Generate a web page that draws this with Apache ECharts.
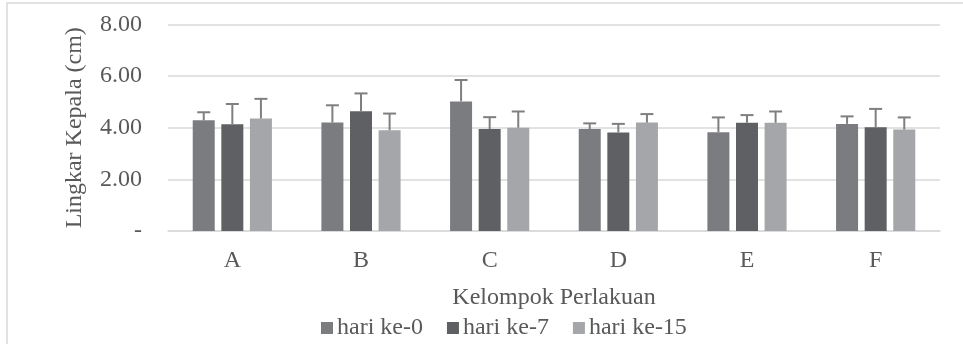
<!DOCTYPE html>
<html>
<head>
<meta charset="utf-8">
<script src="https://cdn.jsdelivr.net/npm/echarts@6/dist/echarts.min.js"></script>
<style>
  html, body { margin: 0; padding: 0; background: #fff; }
  #chart { width: 963px; height: 344px; }
</style>
</head>
<body>
<div id="chart"></div>
<script>
// Treatment groups
const categories = ['A', 'B', 'C', 'D', 'E', 'F'];
const seriesNames = ['hari ke-0', 'hari ke-7', 'hari ke-15'];

// Mean head circumference (cm) per group
const day0 = [4.29, 4.20, 5.02, 3.95, 3.83, 4.15];
const day7 = [4.14, 4.64, 3.95, 3.82, 4.19, 4.02];
const day15 = [4.36, 3.90, 4.00, 4.20, 4.19, 3.93];

// Standard deviation (upper error bars)
const sd0 = [0.31, 0.67, 0.83, 0.22, 0.57, 0.29];
const sd7 = [0.78, 0.69, 0.46, 0.33, 0.30, 0.71];
const sd15 = [0.76, 0.65, 0.63, 0.33, 0.44, 0.47];

// Y axis ticks
const yTicks = [0, 2, 4, 6, 8];

const means = [day0, day7, day15];
const sds = [sd0, sd7, sd15];
const colors = ['#7b7c80', '#5f6063', '#a5a6a9'];
const FONT = '"Liberation Serif", "Times New Roman", serif';
const TEXT = '#595959';
const FS = 24;
const BAR_W = 22;
const BAR_GAP = 0.3;

const chart = echarts.init(document.getElementById('chart'), null, { renderer: 'canvas' });

const barSeries = seriesNames.map((name, i) => ({
  name: name,
  type: 'bar',
  data: means[i],
  barWidth: BAR_W,
  barGap: (BAR_GAP * 100) + '%',
  itemStyle: { color: colors[i] },
  z: 2
}));

// Upper error bars, offset to sit on top of each bar of the cluster
const errSeries = seriesNames.map((name, i) => ({
  type: 'custom',
  name: name + ' sd',
  data: categories.map((c, k) => [k, means[i][k], means[i][k] + sds[i][k]]),
  encode: { x: 0, y: [1, 2] },
  silent: true,
  z: 3,
  renderItem: function (params, api) {
    const k = api.value(0);
    const base = api.coord([k, api.value(1)]);
    const top = api.coord([k, api.value(2)]);
    const offset = (i - 1) * BAR_W * (1 + BAR_GAP);
    const x = base[0] + offset;
    const half = 6.5;
    const style = { stroke: '#7f7f7f', lineWidth: 2, fill: null };
    return {
      type: 'group',
      children: [
        { type: 'line', shape: { x1: x, y1: base[1], x2: x, y2: top[1] }, style: style },
        { type: 'line', shape: { x1: x - half, y1: top[1], x2: x + half, y2: top[1] }, style: style }
      ]
    };
  }
}));

chart.setOption({
  backgroundColor: '#ffffff',
  animation: false,
  textStyle: { fontFamily: FONT, color: TEXT },
  graphic: [{
    type: 'rect',
    shape: { x: 7, y: 3, width: 1000, height: 400 },
    style: { fill: null, stroke: '#d9d9d9', lineWidth: 1.5 },
    silent: true
  }],
  grid: { left: 168, right: 23, top: 24.5, bottom: 113, containLabel: false },
  legend: {
    data: seriesNames,
    left: 316,
    top: 311,
    itemWidth: 12,
    itemHeight: 12,
    itemGap: 24,
    icon: 'rect',
    textStyle: { fontFamily: FONT, fontSize: FS, color: TEXT, padding: [0, 0, 0, -1] }
  },
  xAxis: {
    type: 'category',
    data: categories,
    name: 'Kelompok Perlakuan',
    nameLocation: 'middle',
    nameGap: 55,
    nameTextStyle: { fontFamily: FONT, fontSize: FS, color: TEXT },
    axisLine: { lineStyle: { color: '#d9d9d9', width: 1.5 } },
    axisTick: { show: false },
    axisLabel: { fontFamily: FONT, fontSize: FS, color: TEXT, margin: 18 }
  },
  yAxis: {
    type: 'value',
    min: yTicks[0],
    max: yTicks[yTicks.length - 1],
    interval: yTicks[1] - yTicks[0],
    name: 'Lingkar Kepala (cm)',
    nameLocation: 'middle',
    nameGap: 81,
    nameTextStyle: { fontFamily: FONT, fontSize: FS, color: TEXT },
    axisLine: { show: false },
    axisTick: { show: false },
    splitLine: { lineStyle: { color: '#d9d9d9', width: 1.5 } },
    axisLabel: {
      fontFamily: FONT, fontSize: FS, color: TEXT, margin: 26,
      formatter: v => (v === 0 ? '-' : v.toFixed(2))
    }
  },
  series: barSeries.concat(errSeries)
});
</script>
</body>
</html>
